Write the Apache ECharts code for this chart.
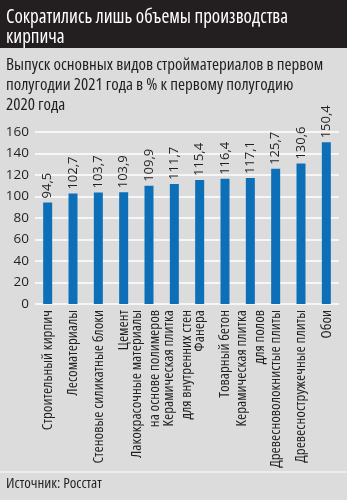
<!DOCTYPE html>
<html><head><meta charset="utf-8">
<script src="https://cdn.jsdelivr.net/npm/echarts@6/dist/echarts.min.js"></script>
<style>html,body{margin:0;padding:0;background:#dcdcdc}#c{width:347px;height:500px}</style>
</head><body><div id="c"></div>
<script>
const categories = ["Строительный кирпич","Лесоматериалы","Стеновые силикатные блоки","Цемент","Лакокрасочные материалы\nна основе полимеров","Керамическая плитка\nдля внутренних стен","Фанера","Товарный бетон","Керамическая плитка\nдля полов","Древесноволокнистые плиты","Древесностружечные плиты","Обои"];
const values = [94.5,102.7,103.7,103.9,109.9,111.7,115.4,116.4,117.1,125.7,130.6,150.4];
const yTicks = [0,20,40,60,80,100,120,140,160];
const titleText = "Сократились лишь объемы производства\nкирпича";
const subtitleText = "Выпуск основных видов стройматериалов в первом\nполугодии 2021 года в % к первому полугодию\n2020 года";
const sourceText = "Источник: Росстат";

const FAM = "'Open Sans','DejaVu Sans Condensed',sans-serif";
const INK = '#231f20';
// spacer lines nudge the two crowded two-line labels apart (style only)
const nudge = {4:'after', 5:'before'};
function catLabel(val, idx){
  const body = val.split('\n').map(l=>'{a|'+l+'}').join('\n');
  if (nudge[idx]==='after') return body+'\n{s| }';
  if (nudge[idx]==='before') return '{s| }\n'+body;
  return body;
}
const chart = echarts.init(document.getElementById('c'), null, {renderer:'canvas'});
chart.setOption({
  backgroundColor:'#dcdcdc',
  animation:false,
  graphic:[
    {type:'rect', left:0, top:0, shape:{width:347,height:48}, style:{fill:'#231f20'}, z:0},
    {type:'line', shape:{x1:0,y1:472,x2:347,y2:472}, style:{stroke:'#f2f2f2',lineWidth:1.5}},
    {type:'text', x:6, y:7.5, style:{text:titleText, fill:'#ffffff', font:'condensed 19px '+FAM, lineHeight:20}, z:10},
    {type:'text', x:6, y:55, style:{text:subtitleText, fill:INK, font:'condensed 17px '+FAM, lineHeight:20}, z:10},
    {type:'text', x:6, y:476, style:{text:sourceText, fill:INK, font:'condensed 15px '+FAM}, z:10}
  ],
  grid:{left:35, right:8, top:132, bottom:196, containLabel:false, outerBoundsMode:'none'},
  xAxis:{
    type:'category', data:categories,
    axisLine:{show:false}, axisTick:{show:false},
    axisLabel:{interval:0, rotate:90, margin:6, color:INK, fontSize:15, lineHeight:18, fontFamily:FAM, fontStyle:'condensed', fontWeight:'normal',
      formatter:catLabel,
      rich:{a:{fontSize:15, lineHeight:18, fontFamily:FAM, fontStyle:'condensed', color:INK},
            s:{fontSize:4, lineHeight:6}}}
  },
  yAxis:{
    type:'value', min:yTicks[0], max:yTicks[yTicks.length-1], interval:yTicks[1]-yTicks[0],
    axisLine:{show:false}, axisTick:{show:false},
    splitLine:{lineStyle:{color:'#ffffff', width:1.5}},
    axisLabel:{margin:6, color:INK, fontSize:13.5, fontFamily:FAM, fontWeight:'normal'}
  },
  series:[{
    type:'bar', data:values, barWidth:9,
    itemStyle:{color:'#0d6fb8'},
    label:{show:true, position:'top', rotate:90, align:'left', verticalAlign:'middle', distance:4,
      color:INK, fontSize:13, fontFamily:FAM, fontWeight:'normal',
      formatter:p=>String(p.value).replace('.',',')}
  }]
});
</script></body></html>
